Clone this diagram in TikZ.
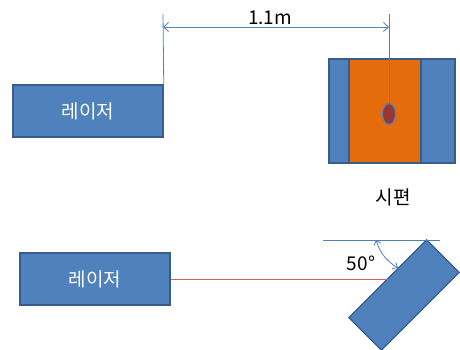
\documentclass[tikz,border=0pt]{standalone}
\usepackage{fontspec}
\newfontfamily\kr{Noto Sans CJK KR}
\usetikzlibrary{arrows.meta,shapes.geometric}
\definecolor{boxblue}{RGB}{79,129,189}
\definecolor{boxedge}{RGB}{56,93,138}
\definecolor{sampleorange}{RGB}{228,108,10}
\definecolor{dotred}{RGB}{149,55,53}
\definecolor{beamred}{RGB}{210,95,95}
\tikzset{
  laserbox/.style={draw=boxedge, fill=boxblue, line width=1.5pt, minimum width=150pt, minimum height=52pt, inner sep=0pt, text=white, font=\kr\fontsize{19}{21}\selectfont},
  thinline/.style={draw=boxblue, line width=0.8pt},
  lbl/.style={font=\kr\fontsize{19}{21}\selectfont, text=black, inner sep=0pt}
}
\begin{document}
\begin{tikzpicture}[x=1pt,y=-1pt]
\useasboundingbox (0,0) rectangle (460,349);
% top laser
\node[laserbox] (laser1) at (88,111) {레이저};
% sample
\node[draw=boxedge, fill=boxblue, line width=1.5pt, minimum width=126pt, minimum height=104pt, inner sep=0pt] (sample) at (392,111) {};
\node[draw=boxedge, fill=sampleorange, line width=1.5pt, minimum width=72pt, minimum height=104pt, inner sep=0pt] (core) at (385,111) {};
\node[draw=boxblue, fill=dotred, ellipse, line width=1.2pt, minimum width=13pt, minimum height=21pt, inner sep=0pt] (dot) at (389,114) {};
% dimension
\coordinate (d1) at (163,14);
\coordinate (d2) at (389,14);
\coordinate (a1) at (163,27);
\coordinate (a2) at (389,27);
\draw[thinline] (laser1.north east) -- (d1);
\draw[thinline] (dot.north) -- (d2);
\draw[thinline, {Straight Barb[length=5pt,width=9pt]}-{Straight Barb[length=5pt,width=9pt]}] (a1) -- (a2);
\node[lbl] (dim) at (270,18) {1.1m};
\node[lbl] (sampletxt) at (393,197) {시편};
% bottom laser
\node[laserbox] (laser2) at (95,279) {레이저};
\node[draw=boxedge, fill=boxblue, line width=1.2pt, minimum width=110pt, minimum height=46pt, inner sep=0pt, rotate=45] (sample2) at (404,295) {};
\coordinate (hit) at (388,279);
\draw[beamred, line width=0.9pt] (laser2.east) -- (hit);
\coordinate (h1) at (323,240);
\coordinate (h2) at (440,240);
\draw[thinline] (h1) -- (h2);
\coordinate (r1) at (376,240);
\coordinate (r2) at (398,268);
\draw[thinline, {Straight Barb[length=4pt,width=7pt]}-{Straight Barb[length=4pt,width=7pt]}] (r1) to[bend right=20] (r2);
\node[lbl] (ang) at (361,263) {50°};
\end{tikzpicture}
\end{document}
